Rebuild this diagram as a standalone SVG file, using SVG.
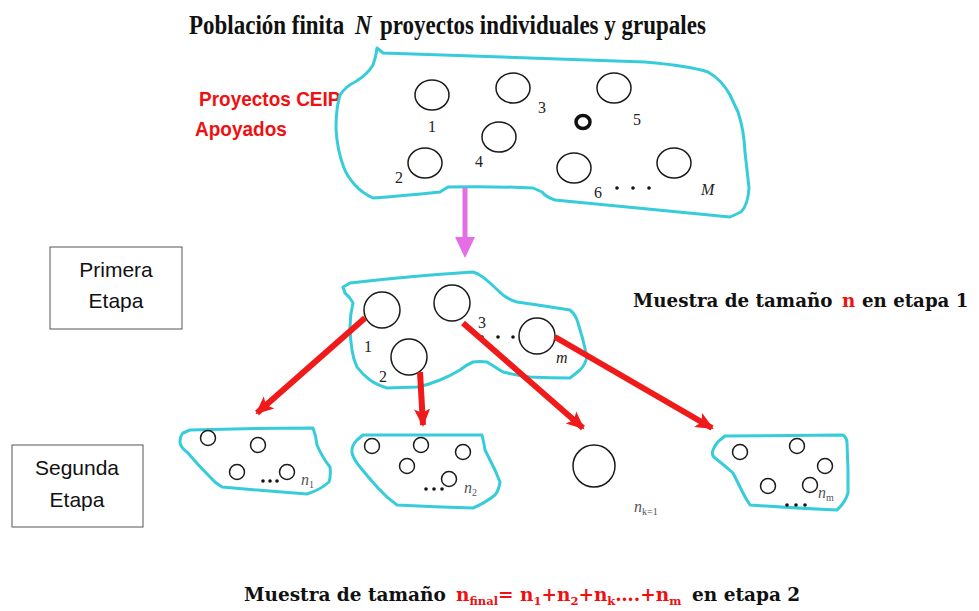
<svg xmlns="http://www.w3.org/2000/svg" width="979" height="611" viewBox="0 0 979 611">
<style>
.blob{fill:#fff;stroke:#36ccd9;stroke-width:3;stroke-linejoin:round}
.c{fill:none;stroke:#1a1a1a;stroke-width:1.5}
.num{font-family:"Liberation Serif",serif;font-size:16px;fill:#222}
.it{font-style:italic}
.lab{font-family:"Liberation Serif",serif;font-size:16px;font-style:italic;fill:#555}
.sub{font-size:10px;font-style:normal}
.dot{fill:#111}
.box{fill:#fff;stroke:#555;stroke-width:1}
.boxt{font-family:"Liberation Sans",sans-serif;font-size:21px;fill:#111;text-anchor:middle}
.head{font-family:"DejaVu Serif",serif;font-weight:bold;fill:#111}
.title{font-family:"Liberation Serif",serif;font-weight:bold;font-size:23px;fill:#111}
.ceip{font-family:"Liberation Sans",sans-serif;font-weight:bold;font-size:19px;fill:#f01010}
.red{fill:#f01010}
.arr{stroke:#f01a1a;stroke-width:6;fill:none}
</style>
<defs>
<marker id="ah" markerUnits="userSpaceOnUse" markerWidth="20" markerHeight="20" viewBox="0 0 20 20" refX="16" refY="10" orient="auto">
<path d="M0,2 L18,10 L0,18 L4,10 Z" fill="#f01a1a"/>
</marker>
</defs>

<g id="titulo" transform="matrix(1,0,0,1.15,0,34)">
<text class="title" x="189" y="0">Población finita</text>
<text class="title" x="355" y="0" font-style="italic">N</text>
<text class="title" x="380" y="0">proyectos individuales y grupales</text>
</g>

<g id="label-ceip">
<text class="ceip" transform="matrix(1,0,0,1.1,199,106)">Proyectos CEIP</text>
<text class="ceip" transform="matrix(1,0,0,1.1,195,136)">Apoyados</text>
</g>

<g id="poblacion">
<path class="blob" d="M377,48 L383,53 Q500,57 645,62 Q690,66 708,72 Q722,80 730,95 L738,112 Q744,130 745,152 L749,188 Q748,205 741,212 L730,217 Q640,208 555,200 Q546,197 542,192 L533,188 Q490,186 448,187 L440,192 Q400,196 373,198 Q362,193 355,185 Q347,176 344,168 Q337,150 336,128 Q336,108 340,95 Q346,86 355,82 Q367,75 373,65 Q376,57 377,48 Z"/>
<ellipse class="c" cx="432" cy="95" rx="17" ry="15"/>
<ellipse class="c" cx="513" cy="88" rx="17" ry="15"/>
<ellipse class="c" cx="614" cy="88" rx="17" ry="15"/>
<ellipse cx="583" cy="122" rx="7" ry="6.5" fill="none" stroke="#111" stroke-width="3.5"/>
<ellipse class="c" cx="499" cy="137" rx="17" ry="15"/>
<ellipse class="c" cx="425" cy="163" rx="17" ry="15"/>
<ellipse class="c" cx="574" cy="168" rx="17" ry="15"/>
<ellipse class="c" cx="674" cy="163" rx="17" ry="15"/>
<text class="num" x="428" y="132">1</text>
<text class="num" x="538" y="113">3</text>
<text class="num" x="633" y="125">5</text>
<text class="num" x="475" y="167">4</text>
<text class="num" x="395" y="183">2</text>
<text class="num" x="594" y="198">6</text>
<circle class="dot" cx="617" cy="188" r="1.8"/>
<circle class="dot" cx="633" cy="188" r="1.8"/>
<circle class="dot" cx="649" cy="188" r="1.8"/>
<text class="num it" x="701" y="195">M</text>
</g>

<g id="etapa1-box">
<rect class="box" x="50" y="247" width="132" height="82"/>
<text class="boxt" x="116" y="277">Primera</text>
<text class="boxt" x="116" y="308">Etapa</text>
</g>

<g id="etapa2-box">
<rect class="box" x="12" y="445" width="131" height="82"/>
<text class="boxt" x="77" y="475">Segunda</text>
<text class="boxt" x="77" y="507">Etapa</text>
</g>

<g id="muestra1">
<path class="blob" d="M343,287 L350,283 Q410,276 473,272 L478,274 Q485,278 490,283 L503,295 Q510,300 517,302 Q545,306 570,310 Q576,315 578,323 L583,340 L587,357 Q585,365 580,370 L570,378 Q550,378 530,377 Q515,375 503,372 L487,362 Q480,361 473,362 Q466,365 460,370 Q450,376 440,380 Q428,385 417,387 L387,388 Q377,385 370,380 Q362,374 357,367 Q353,358 352,350 Q350,338 350,327 Q350,315 353,303 Q350,297 345,293 Z"/>
<circle class="c" cx="382" cy="310" r="18"/>
<circle class="c" cx="452" cy="303" r="18"/>
<circle class="c" cx="409" cy="357" r="18"/>
<circle class="c" cx="537" cy="336" r="18"/>
<text class="num" x="364" y="352">1</text>
<text class="num" x="379" y="382">2</text>
<text class="num" x="478" y="328">3</text>
<circle class="dot" cx="482" cy="337" r="1.8"/>
<circle class="dot" cx="498" cy="337" r="1.8"/>
<circle class="dot" cx="513" cy="337" r="1.8"/>
<text class="num it" x="556" y="363">m</text>
</g>

<g id="grupo-n1">
<path class="blob" d="M183,433 L190,430 Q250,428 313,428 Q316,436 317,445 Q322,457 330,467 Q331,476 329,482 Q320,490 307,494 Q265,491 222,487 Q215,483 210,477 Q198,465 188,453 Q180,447 180,442 Q180,436 183,433 Z"/>
<circle class="c" cx="208" cy="438" r="7.5"/>
<circle class="c" cx="258" cy="445" r="7.5"/>
<circle class="c" cx="237" cy="472" r="7.5"/>
<circle class="c" cx="287" cy="472" r="7.5"/>
<circle class="dot" cx="263" cy="481" r="1.8"/>
<circle class="dot" cx="270" cy="481" r="1.8"/>
<circle class="dot" cx="277" cy="481" r="1.8"/>
<text class="lab" x="301" y="485">n<tspan class="sub" dy="3">1</tspan></text>
</g>

<g id="grupo-n2">
<path class="blob" d="M357,440 L363,435 L482,435 Q484,443 485,450 Q490,460 495,470 L500,482 Q499,490 495,495 Q485,503 473,508 Q435,507 397,505 Q386,497 378,488 Q368,477 360,467 Q354,460 352,453 Q351,446 357,440 Z"/>
<circle class="c" cx="372" cy="446" r="7.5"/>
<circle class="c" cx="421" cy="445" r="7.5"/>
<circle class="c" cx="463" cy="452" r="7.5"/>
<circle class="c" cx="407" cy="466" r="7.5"/>
<circle class="c" cx="449" cy="479" r="7.5"/>
<circle class="dot" cx="426" cy="489" r="1.8"/>
<circle class="dot" cx="434" cy="489" r="1.8"/>
<circle class="dot" cx="442" cy="489" r="1.8"/>
<text class="lab" x="464" y="493">n<tspan class="sub" dy="3">2</tspan></text>
</g>

<g id="grupo-nk">
<circle class="c" cx="594" cy="466" r="21"/>
<text class="lab" x="634" y="512" font-size="14">n<tspan class="sub" dy="3" font-size="9">k=1</tspan></text>
</g>

<g id="grupo-nm">
<path class="blob" d="M713,450 Q716,443 720,440 L725,436 L843,435 Q847,438 847,443 L848,470 L848,493 Q845,503 837,510 Q793,508 750,505 Q746,499 743,493 Q738,483 733,473 Q724,465 715,458 Q711,455 713,450 Z"/>
<circle class="c" cx="740" cy="452" r="7.5"/>
<circle class="c" cx="797" cy="446" r="7.5"/>
<circle class="c" cx="825" cy="466" r="7.5"/>
<circle class="c" cx="768" cy="486" r="7.5"/>
<circle class="c" cx="810" cy="485" r="7.5"/>
<circle class="dot" cx="787" cy="505" r="1.8"/>
<circle class="dot" cx="796" cy="505" r="1.8"/>
<circle class="dot" cx="805" cy="505" r="1.8"/>
<text class="lab" x="818" y="498">n<tspan class="sub" dy="3">m</tspan></text>
</g>

<g id="connectors">
<line x1="465" y1="188" x2="465" y2="240" stroke="#e46ee6" stroke-width="5"/>
<path d="M455,237 L475,237 L465,258 Z" fill="#e46ee6"/>
<line class="arr" x1="365" y1="318" x2="257" y2="413" marker-end="url(#ah)"/>
<line class="arr" x1="420" y1="372" x2="423" y2="425" marker-end="url(#ah)"/>
<line class="arr" x1="463" y1="323" x2="583" y2="428" marker-end="url(#ah)"/>
<line class="arr" x1="555" y1="337" x2="712" y2="428" marker-end="url(#ah)"/>
</g>

<g id="texto-etapa1">
<text class="head" x="633" y="307" font-size="18.3">Muestra de tamaño</text>
<text class="head red" x="842" y="307" font-size="18.3">n</text>
<text class="head" x="862" y="307" font-size="18.2">en etapa 1</text>
</g>

<g id="texto-etapa2">
<text class="head" x="244" y="601" font-size="18.5">Muestra de tamaño</text>
<text class="head red" x="456" y="601" font-size="18.5">n<tspan font-size="11.5" dy="4">final</tspan><tspan dy="-4">= n</tspan><tspan font-size="11.5" dy="4">1</tspan><tspan dy="-4">+n</tspan><tspan font-size="11.5" dy="4">2</tspan><tspan dy="-4">+n</tspan><tspan font-size="11.5" dy="4">k</tspan><tspan dy="-4">….+n</tspan><tspan font-size="11.5" dy="4">m</tspan></text>
<text class="head" x="692" y="601" font-size="18.5">en etapa 2</text>
</g>
</svg>
